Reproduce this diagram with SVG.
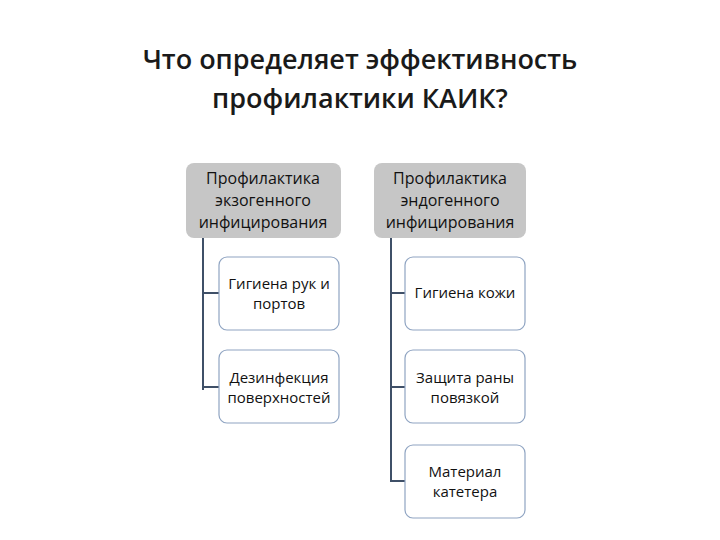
<svg xmlns="http://www.w3.org/2000/svg" width="720" height="540" viewBox="0 0 720 540">
<style>
.t{font-family:"Open Sans","DejaVu Sans",sans-serif;font-weight:600;font-size:27px;fill:#1a1a1a;text-anchor:middle}
.h{fill:#c6c6c6}
.ht{font-family:"Open Sans","DejaVu Sans",sans-serif;font-size:16px;fill:#111;text-anchor:middle}
.c{fill:#fff;stroke:#8fa4c2;stroke-width:1.2}
.ct{font-family:"Open Sans","DejaVu Sans",sans-serif;font-size:15px;fill:#111;text-anchor:middle}
.l{stroke:#3f5068;stroke-width:2;fill:none}
</style>
<rect width="720" height="540" fill="#fff"/>
<text class="t" x="360" y="69">Что определяет эффективность</text>
<text class="t" x="360" y="108">профилактики КАИК?</text>
<g id="connectors">
<path class="l" d="M203 238V390M203 293H219M203 387H219"/>
<path class="l" d="M391 238V482M391 293H405M391 387H405M391 481H405"/>
</g>
<g id="h1"><rect class="h" x="186" y="163" width="155" height="75" rx="8"/>
<text class="ht" x="263" y="184">Профилактика</text><text class="ht" x="263" y="206">экзогенного</text><text class="ht" x="263" y="228">инфицирования</text></g>
<g id="h2"><rect class="h" x="374" y="163" width="152" height="75" rx="8"/>
<text class="ht" x="450" y="184">Профилактика</text><text class="ht" x="450" y="206">эндогенного</text><text class="ht" x="450" y="228">инфицирования</text></g>
<g id="c1"><rect class="c" x="219" y="257" width="120" height="73" rx="8"/>
<text class="ct" x="279" y="289">Гигиена рук и</text><text class="ct" x="279" y="309">портов</text></g>
<g id="c2"><rect class="c" x="219" y="350" width="120" height="73" rx="8"/>
<text class="ct" x="279" y="383">Дезинфекция</text><text class="ct" x="279" y="403">поверхностей</text></g>
<g id="c3"><rect class="c" x="405" y="257" width="120" height="73" rx="8"/>
<text class="ct" x="465" y="298">Гигиена кожи</text></g>
<g id="c4"><rect class="c" x="405" y="350" width="120" height="73" rx="8"/>
<text class="ct" x="465" y="383">Защита раны</text><text class="ct" x="465" y="403">повязкой</text></g>
<g id="c5"><rect class="c" x="405" y="445" width="120" height="73" rx="8"/>
<text class="ct" x="465" y="477">Материал</text><text class="ct" x="465" y="497">катетера</text></g>
</svg>
